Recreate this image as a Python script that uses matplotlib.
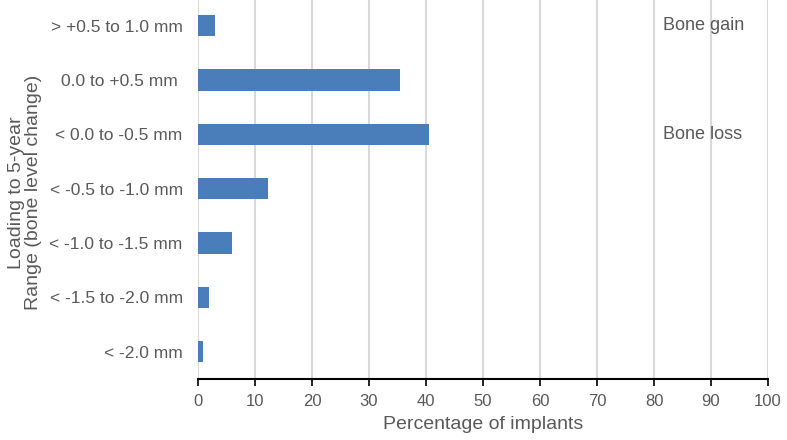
import matplotlib.pyplot as plt

plt.rcParams['font.family'] = ['Liberation Sans', 'DejaVu Sans']

# Data
categories = ['> +0.5 to 1.0 mm', '0.0 to +0.5 mm ', '< 0.0 to -0.5 mm', '< -0.5 to -1.0 mm',
              '< -1.0 to -1.5 mm', '< -1.5 to -2.0 mm', '< -2.0 mm']
percentages = [3.0, 35.5, 40.6, 12.2, 6.0, 1.9, 0.8]
x_ticks = list(range(0, 101, 10))

text_color = '#595959'
bar_color = '#4a7ebb'

fig = plt.figure(figsize=(7.87, 4.4), dpi=100)
ax = fig.add_axes([0.2516, 0.1386, 0.7243, 0.8652])

pos = list(range(len(categories)))
ax.barh(pos, percentages, height=0.39, color=bar_color, zorder=3)
ax.set_ylim(len(categories) - 0.5, -0.5)
ax.set_xlim(0, 100)

# Grid and spines
ax.set_xticks(x_ticks)
ax.xaxis.grid(True, color='#d9d9d9', linewidth=1.5, zorder=0)
for s in ['top', 'right', 'left']:
    ax.spines[s].set_visible(False)
ax.spines['bottom'].set_color('black')
ax.spines['bottom'].set_linewidth(1.5)
ax.tick_params(axis='x', colors='black', length=5, width=1.2, labelsize=12,
               labelcolor=text_color, pad=6)
ax.tick_params(axis='y', length=0, labelsize=12.5, labelcolor=text_color, pad=11)
ax.set_yticks(pos)
ax.set_yticklabels(categories)

ax.set_xlabel('Percentage of implants', fontsize=14, color=text_color, labelpad=5)
ax.set_ylabel('Loading to 5-year\nRange (bone level change)', fontsize=14,
              color=text_color, linespacing=1.0)
ax.yaxis.set_label_coords(-0.274, 0.49)

# Annotations
ax.text(81.6, 0, 'Bone gain', fontsize=13, color=text_color, va='center', ha='left', zorder=4)
ax.text(81.6, 2, 'Bone loss', fontsize=13, color=text_color, va='center', ha='left', zorder=4)

plt.savefig('out.png', dpi=100)
